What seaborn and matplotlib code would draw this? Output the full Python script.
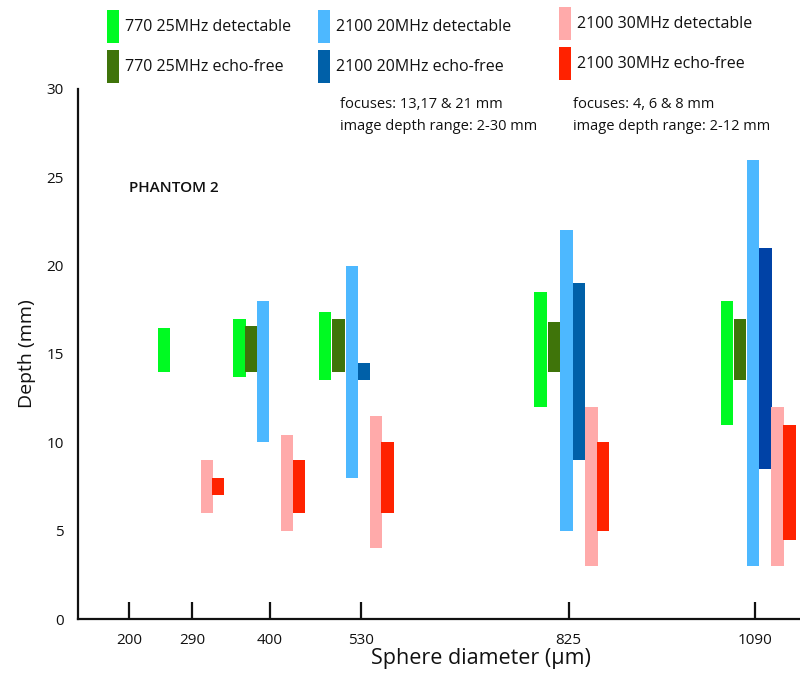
import numpy as np
import pandas as pd
import seaborn as sns
import matplotlib.pyplot as plt
from matplotlib.patches import Rectangle

sns.set_style("ticks")
plt.rcParams['font.family'] = ['Open Sans', 'DejaVu Sans']
plt.rcParams['text.color'] = '#111111'
plt.rcParams['xtick.color'] = '#111111'
plt.rcParams['ytick.color'] = '#111111'
plt.rcParams['axes.labelcolor'] = '#111111'
plt.rcParams['axes.edgecolor'] = '#111111'

# series names and colours
series = ["770 25MHz detectable", "770 25MHz echo-free",
          "2100 20MHz detectable", "2100 20MHz echo-free",
          "2100 30MHz detectable", "2100 30MHz echo-free"]
colors = ["#00FA22", "#3F740A", "#4DB8FF", "#0060A8", "#FFAAAA", "#FF2200"]

# depth ranges (mm), bar positions along the diameter axis (um)
green_det_x = [250, 357, 479, 785, 1050]
green_det_lo = [14.0, 13.7, 13.5, 12.0, 11.0]
green_det_hi = [16.45, 17.0, 17.4, 18.5, 18.0]

green_echo_x = [374, 498, 804, 1069]
green_echo_lo = [14.0, 14.0, 14.0, 13.5]
green_echo_hi = [16.6, 17.0, 16.8, 17.0]

blue_det_x = [391, 517, 822, 1087]
blue_det_lo = [10.0, 8.0, 5.0, 3.0]
blue_det_hi = [18.0, 20.0, 22.0, 26.0]

blue_echo_x = [534, 840, 1105]
blue_echo_lo = [13.5, 9.0, 8.5]
blue_echo_hi = [14.5, 19.0, 21.0]

pink_det_x = [310.5, 425, 551, 857.5, 1122]
pink_det_lo = [6.0, 5.0, 4.0, 3.0, 3.0]
pink_det_hi = [9.0, 10.4, 11.5, 12.0, 12.0]

red_echo_x = [326.5, 442, 567.5, 874, 1139]
red_echo_lo = [7.0, 6.0, 6.0, 5.0, 4.5]
red_echo_hi = [8.0, 9.0, 10.0, 10.0, 11.0]

diameters = [200, 290, 400, 530, 825, 1090]

rows = []
for name, xs, lo, hi in zip(series,
                            [green_det_x, green_echo_x, blue_det_x, blue_echo_x, pink_det_x, red_echo_x],
                            [green_det_lo, green_echo_lo, blue_det_lo, blue_echo_lo, pink_det_lo, red_echo_lo],
                            [green_det_hi, green_echo_hi, blue_det_hi, blue_echo_hi, pink_det_hi, red_echo_hi]):
    for x, a, b in zip(xs, lo, hi):
        rows.append({"series": name, "x": x, "lo": a, "hi": b})
df = pd.DataFrame(rows)

fig = plt.figure(figsize=(8, 6.84), dpi=100)
ax = fig.add_axes([0.0975, 0.095, 0.9025, 0.775])

cmap = dict(zip(series, colors))
for name in series:
    d = df[df["series"] == name]
    c = [cmap[name]] * len(d)
    if name == "2100 20MHz echo-free":
        c[-1] = "#0042A6"
    ax.bar(d["x"], d["hi"] - d["lo"], bottom=d["lo"], width=17.5, color=c, linewidth=0)

ax.set_xlim(127.5, 1154)
ax.set_ylim(0, 30)
sns.despine(ax=ax)
ax.spines["left"].set_linewidth(1.6)
ax.spines["bottom"].set_linewidth(1.6)

ax.set_xticks(diameters)
ax.set_xticklabels([str(d) for d in diameters], fontsize=11)
ax.tick_params(axis="x", direction="in", length=12, width=1.6, pad=10)
ax.set_yticks(np.arange(0, 31, 5))
ax.set_yticklabels([str(v) for v in range(0, 31, 5)], fontsize=11)
ax.tick_params(axis="y", length=0, pad=10)
ax.set_yticks([30], minor=True)
ax.tick_params(axis="y", which="minor", direction="in", length=9, width=1.6)

ax.set_xlabel("Sphere diameter (µm)", fontsize=15.5, labelpad=6)
ax.xaxis.set_label_coords(0.558, -0.055)
ax.set_ylabel("Depth (mm)", fontsize=14, labelpad=8)

# legend drawn by hand: 3 columns x 2 rows
col_x = [107, 318, 559]
row_y = [10, 50]
for i, name in enumerate(series):
    cx = col_x[i // 2]
    ry = row_y[i % 2] - (3 if i // 2 == 2 else 0)
    fig.add_artist(Rectangle((cx / 800, 1 - (ry + 33) / 684), 12 / 800, 33 / 684,
                             transform=fig.transFigure, color=cmap[name], linewidth=0))
    fig.text((cx + 18) / 800, 1 - (ry + 17) / 684, name, fontsize=11.5, va="center", ha="left")

fig.text(340 / 800, 1 - 104 / 684, "focuses: 13,17 & 21 mm", fontsize=10.5, va="center")
fig.text(340 / 800, 1 - 127 / 684, "image depth range: 2-30 mm", fontsize=10.5, va="center")
fig.text(573 / 800, 1 - 104 / 684, "focuses: 4, 6 & 8 mm", fontsize=10.5, va="center")
fig.text(573 / 800, 1 - 126 / 684, "image depth range: 2-12 mm", fontsize=10.5, va="center")
fig.text(129 / 800, 1 - 188 / 684, "PHANTOM 2", fontsize=11, fontweight="semibold", va="center")

fig.savefig("out.png", dpi=100)
